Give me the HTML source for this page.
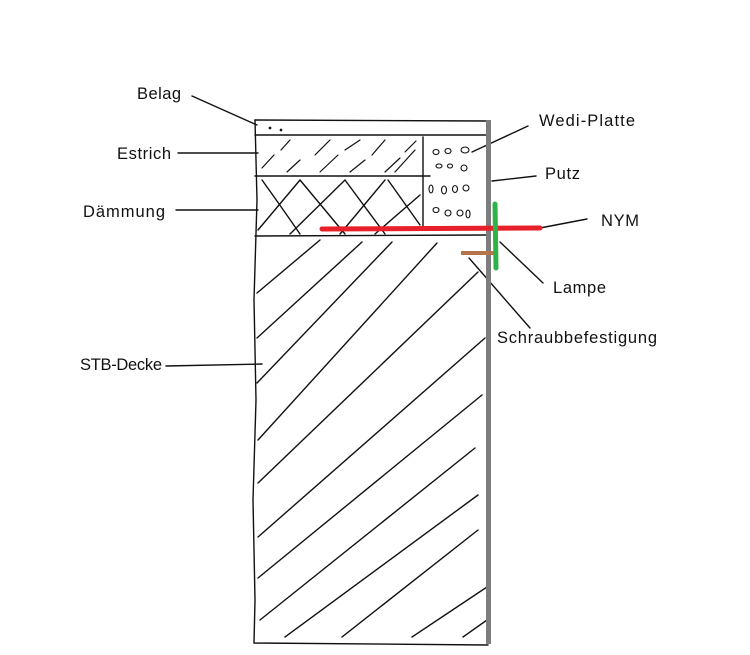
<!DOCTYPE html>
<html><head><meta charset="utf-8"><style>
html,body{margin:0;padding:0;background:#fff;}
svg{display:block}
text{font-family:"Liberation Sans",sans-serif;font-size:16.5px;fill:#111}
</style></head><body>
<svg width="750" height="655" viewBox="0 0 750 655" xmlns="http://www.w3.org/2000/svg">
<g stroke="#111" stroke-width="1.4" fill="none" stroke-linecap="round">
<path d="M255 120 L257 200 L254 300 L256 400 L253 500 L255 600 L254 643 L488 645"/>
<line x1="255" y1="120" x2="488" y2="121"/>
<line x1="255" y1="135" x2="488" y2="135"/>
<line x1="255" y1="176" x2="430" y2="176"/>
<line x1="255" y1="236" x2="490" y2="235"/>
<line x1="423" y1="137" x2="423" y2="228"/>
<g stroke-width="1.2">
<line x1="262" y1="168" x2="274" y2="155"/><line x1="281" y1="150" x2="290" y2="140"/>
<line x1="287" y1="172" x2="300" y2="160"/><line x1="315" y1="155" x2="330" y2="140"/>
<line x1="320" y1="172" x2="338" y2="155"/><line x1="345" y1="150" x2="360" y2="140"/>
<line x1="350" y1="172" x2="365" y2="160"/><line x1="372" y1="155" x2="385" y2="140"/>
<line x1="385" y1="172" x2="400" y2="158"/><line x1="405" y1="152" x2="416" y2="141"/>
<line x1="395" y1="172" x2="415" y2="150"/>
</g>
<path d="M262 180 Q280 205 300 234"/><path d="M258 230 L300 180"/>
<path d="M300 180 L345 234"/><path d="M290 234 L345 180"/>
<path d="M345 180 L385 234"/><path d="M340 234 L385 180"/>
<path d="M388 180 L420 225"/><path d="M375 234 L420 195"/>
<line x1="257" y1="293" x2="320" y2="240"/>
<line x1="257" y1="338" x2="362" y2="242"/>
<line x1="257" y1="383" x2="392" y2="242"/>
<line x1="258" y1="440" x2="437" y2="243"/>
<line x1="258" y1="483" x2="478" y2="272"/>
<line x1="258" y1="537" x2="485" y2="338"/>
<line x1="258" y1="578" x2="482" y2="395"/>
<line x1="260" y1="620" x2="475" y2="448"/>
<line x1="285" y1="637" x2="478" y2="495"/>
<line x1="342" y1="637" x2="478" y2="530"/>
<line x1="412" y1="637" x2="487" y2="587"/>
<line x1="463" y1="637" x2="487" y2="620"/>
<line x1="192" y1="96" x2="257" y2="125"/>
<line x1="178" y1="153" x2="258" y2="153"/>
<line x1="176" y1="210" x2="258" y2="210"/>
<line x1="166" y1="366" x2="262" y2="364"/>
<line x1="528" y1="126" x2="472" y2="152"/>
<line x1="536" y1="176" x2="492" y2="181"/>
<line x1="587" y1="219" x2="540" y2="228"/>
<line x1="543" y1="283" x2="500" y2="242"/>
<line x1="530" y1="328" x2="469" y2="258"/>
</g>
<g stroke="#111" stroke-width="1.1" fill="none">
<ellipse cx="436" cy="152" rx="3" ry="2.5"/><ellipse cx="448" cy="151" rx="3" ry="2.5"/><ellipse cx="465" cy="150" rx="4" ry="3"/>
<ellipse cx="439" cy="166" rx="3" ry="2"/><ellipse cx="450" cy="166" rx="2.5" ry="2"/><ellipse cx="464" cy="168" rx="3" ry="3"/>
<ellipse cx="431" cy="189" rx="2" ry="4"/><ellipse cx="444" cy="190" rx="2.5" ry="4"/><ellipse cx="455" cy="189" rx="2.5" ry="3.5"/><ellipse cx="466" cy="188" rx="3" ry="3"/>
<ellipse cx="436" cy="210" rx="3" ry="2.5"/><ellipse cx="448" cy="213" rx="3" ry="3"/><ellipse cx="460" cy="213" rx="3" ry="3"/><ellipse cx="468" cy="214" rx="2" ry="4"/>
<circle cx="270" cy="128" r="0.8" fill="#111"/><circle cx="281" cy="130" r="0.8" fill="#111"/>
</g>
<rect x="486" y="120" width="5" height="524" fill="#7d7d7d"/>
<path d="M322 229 L540 228" stroke="#e8202a" stroke-width="5" stroke-linecap="round"/>
<rect x="461" y="251" width="37" height="4" fill="#b5744a"/>
<path d="M495 204 L496 268" stroke="#2cb34a" stroke-width="5" stroke-linecap="round"/>
<text x="137" y="99" textLength="44">Belag</text>
<text x="117" y="159" textLength="54">Estrich</text>
<text x="83" y="217" textLength="82">Dämmung</text>
<text x="80" y="370" textLength="82">STB-Decke</text>
<text x="539" y="126" textLength="96">Wedi-Platte</text>
<text x="545" y="179" textLength="35">Putz</text>
<text x="601" y="226" textLength="38">NYM</text>
<text x="553" y="293" textLength="53">Lampe</text>
<text x="497" y="343" textLength="160">Schraubbefestigung</text>
</svg>
</body></html>
